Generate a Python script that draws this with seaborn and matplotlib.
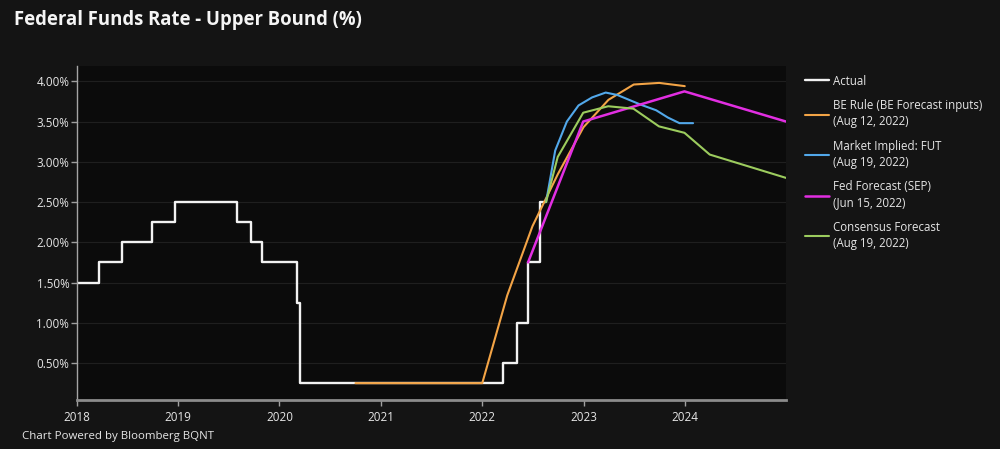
import pandas as pd
import seaborn as sns
import matplotlib.pyplot as plt
import matplotlib.dates as mdates
from matplotlib.ticker import FuncFormatter

# Actual upper bound (step changes)
actual_dates = ["2018-01-01", "2018-03-22", "2018-06-14", "2018-09-27", "2018-12-20",
                "2019-08-01", "2019-09-19", "2019-10-31", "2020-03-04", "2020-03-16",
                "2022-03-17", "2022-05-05", "2022-06-16", "2022-07-28", "2022-08-19"]
actual_rate = [1.50, 1.75, 2.00, 2.25, 2.50, 2.25, 2.00, 1.75, 1.25, 0.25,
               0.50, 1.00, 1.75, 2.50, 2.50]

# BE Rule (BE Forecast inputs)
be_dates = ["2020-10-01", "2021-01-01", "2021-04-01", "2021-07-01", "2021-10-01",
            "2022-01-01", "2022-04-01", "2022-07-01", "2022-10-01", "2023-01-01",
            "2023-04-01", "2023-07-01", "2023-10-01", "2024-01-01"]
be_rate = [0.25, 0.25, 0.25, 0.25, 0.25, 0.25, 1.34, 2.20, 2.85, 3.43,
           3.77, 3.96, 3.98, 3.94]

# Market implied: FUT
fut_dates = ["2022-08-19", "2022-09-21", "2022-11-02", "2022-12-14", "2023-02-01",
             "2023-03-22", "2023-05-03", "2023-06-14", "2023-07-26", "2023-09-20",
             "2023-11-01", "2023-12-13", "2024-01-31"]
fut_rate = [2.50, 3.14, 3.50, 3.70, 3.80, 3.86, 3.83, 3.77, 3.71, 3.64, 3.55, 3.48, 3.48]

# Fed Forecast (SEP)
sep_dates = ["2022-06-15", "2022-12-31", "2023-12-31", "2024-12-31"]
sep_rate = [1.75, 3.50, 3.875, 3.50]

# Consensus Forecast
cons_dates = ["2022-08-19", "2022-09-30", "2022-12-31", "2023-03-31", "2023-06-30",
              "2023-09-30", "2023-12-31", "2024-03-31", "2024-12-31"]
cons_rate = [2.50, 3.06, 3.61, 3.69, 3.66, 3.44, 3.36, 3.09, 2.80]

series = [
    ("Actual", actual_dates, actual_rate, "#f2f2f2", 1.7),
    ("BE Rule (BE Forecast inputs)\n(Aug 12, 2022)", be_dates, be_rate, "#f3a446", 1.5),
    ("Market Implied: FUT\n(Aug 19, 2022)", fut_dates, fut_rate, "#52a8ea", 1.5),
    ("Fed Forecast (SEP)\n(Jun 15, 2022)", sep_dates, sep_rate, "#e22ee2", 1.8),
    ("Consensus Forecast\n(Aug 19, 2022)", cons_dates, cons_rate, "#9ccc5e", 1.5),
]

fig_bg = "#141414"
ax_bg = "#0b0b0b"
text_c = "#e6e6e6"

sns.set_theme(style="dark")
plt.rcParams["font.family"] = ["Open Sans", "DejaVu Sans"]

fig = plt.figure(figsize=(10, 4.49), dpi=100, facecolor=fig_bg)
ax = fig.add_axes([0.077, 0.109, 0.709, 0.744])
ax.set_facecolor(ax_bg)

for label, d, v, c, lw in series:
    df = pd.DataFrame({"date": pd.to_datetime(d), "rate": v})
    kw = {"drawstyle": "steps-post"} if label == "Actual" else {}
    sns.lineplot(data=df, x="date", y="rate", ax=ax, color=c, linewidth=lw,
                 label=label, sort=False, estimator=None, **kw)

ax.set_xlim(pd.Timestamp("2018-01-01"), pd.Timestamp("2024-12-31"))
ax.set_ylim(0.04, 4.19)
ax.set_yticks([0.5, 1.0, 1.5, 2.0, 2.5, 3.0, 3.5, 4.0])
ax.yaxis.set_major_formatter(FuncFormatter(lambda v, p: f"{v:.2f}%"))
ax.xaxis.set_major_locator(mdates.YearLocator())
ax.xaxis.set_major_formatter(mdates.DateFormatter("%Y"))
ax.set_xlabel("")
ax.set_ylabel("")

ax.grid(axis="y", color="#1f1f1f", linewidth=0.8)
ax.grid(axis="x", visible=False)
for s in ["top", "right"]:
    ax.spines[s].set_visible(False)
ax.spines["left"].set_color("#a5a5a5")
ax.spines["left"].set_linewidth(1)
ax.spines["bottom"].set_color("#8c8c8c")
ax.spines["bottom"].set_linewidth(2)
ax.tick_params(axis="both", direction="out", length=4, width=1, color="#a0a0a0",
               labelcolor=text_c, labelsize=8.4, bottom=True, left=True)
ax.tick_params(axis="y", pad=1.5)
ax.tick_params(axis="x", pad=4)

leg = ax.legend(loc="upper left", bbox_to_anchor=(0.805, 0.834), bbox_transform=fig.transFigure,
                frameon=False, fontsize=8.3, labelcolor=text_c, handlelength=2.05,
                handletextpad=0.4, labelspacing=1.0, borderaxespad=0, borderpad=0)
for t in leg.get_texts():
    t.set_linespacing(1.3)

fig.text(0.014, 1 - 20 / 449, "Federal Funds Rate - Upper Bound (%)", fontsize=13.35,
         fontweight="bold", color="#f5f5f5", va="center", ha="left")
fig.text(0.022, 1 - 437 / 449, "Chart Powered by Bloomberg BQNT", fontsize=8.25,
         color=text_c, va="center", ha="left")

fig.savefig("out.png", dpi=100, facecolor=fig_bg)
